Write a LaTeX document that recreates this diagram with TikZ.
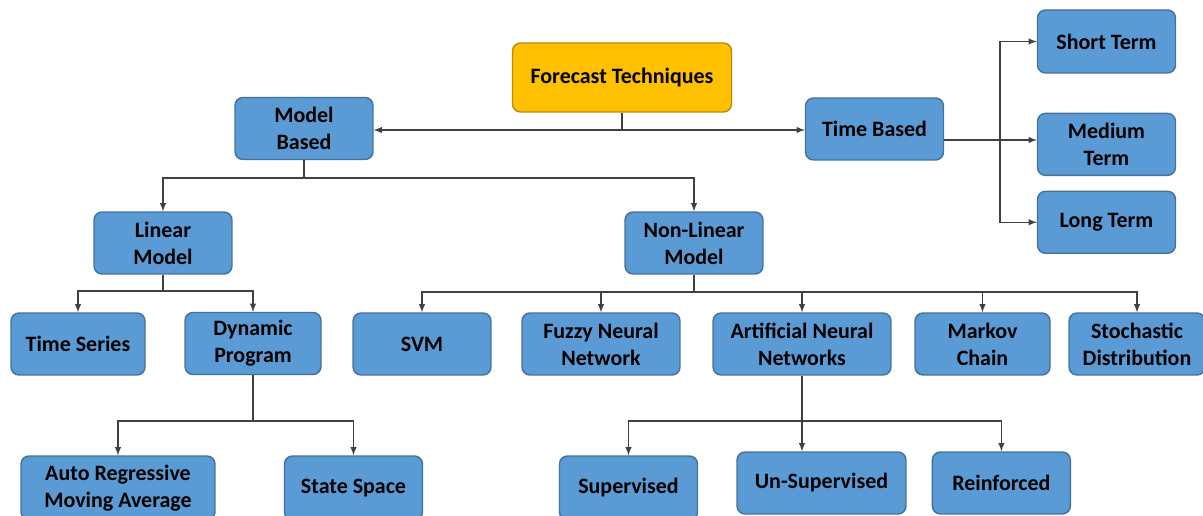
\documentclass[tikz,border=0pt]{standalone}
\usepackage{fontspec}
\setmainfont{Carlito}
\usetikzlibrary{arrows,positioning}
\definecolor{techfill}{HTML}{5B9BD5}
\definecolor{techline}{HTML}{41719C}
\definecolor{techgold}{HTML}{FFC000}
\definecolor{goldline}{HTML}{BC8C00}
\definecolor{wireclr}{HTML}{404040}
\tikzstyle{tech}=[rectangle,rounded corners=0.16cm,draw=techline,fill=techfill,
line width=0.8pt,minimum width=2.76cm,minimum height=1.24cm,align=center,
inner sep=1pt,font=\bfseries\fontsize{12.5}{15.3}\selectfont]
\tikzstyle{topbox}=[tech,fill=techgold,draw=goldline,minimum width=4.38cm,
minimum height=1.38cm]
\tikzstyle{wire}=[draw=wireclr,line width=0.6pt]

\begin{document}
\begin{tikzpicture}[x=0.02cm,y=-0.02cm,>=latex]
            \useasboundingbox (0,0) rectangle (1203,516);

            % TOP PART

            \node[topbox] (fc) at (622,77.5) {Forecast Techniques};
            \node[tech] (mb) at (304,128.5) {Model\\Based};
            \node[tech] (tb) at (874.5,129) {Time Based};

            \coordinate (fcbus) at (622,130);
            \draw[wire] (fc) -- (fcbus);
            \draw[wire,->] (fcbus) -- (fcbus -| mb.east);
            \draw[wire,->] (fcbus) -- (fcbus -| tb.west);

            % TIME PART

            \node[tech,minimum height=1.26cm] (st) at (1106.5,41.5) {Short Term};
            \node[tech,below=0.78cm of st] (mt) {Medium\\Term};
            \node[tech,below=0.29cm of mt] (lt) {Long Term};

            \coordinate (tbbus) at (1000,140);
            \draw[wire,->] (tbbus -| tb.east) -- (tbbus -| mt.west);
            \draw[wire,->] (tbbus) |- (st.west);
            \draw[wire,->] (tbbus) |- (lt.west);

            % MODEL PART

            \node[tech] (lm) at (163,243) {Linear\\Model};
            \node[tech] (nl) at (694,243) {Non-Linear\\Model};

            \coordinate (mbbus) at (304,178);
            \draw[wire] (mb) -- (mbbus);
            \draw[wire,->] (mbbus) -| (lm.north);
            \draw[wire,->] (mbbus) -| (nl.north);

            % LINEAR PART

            \node[tech,minimum width=2.68cm] (ts) at (78,344) {Time Series};
            \node[tech,minimum width=2.72cm] (dp) at (253,343.5) {Dynamic\\Program};
            \node[tech,minimum width=3.88cm,minimum height=1.28cm] (arma) at (118,488) {Auto Regressive\\Moving Average};
            \node[tech,minimum height=1.28cm] (ss) at (353.5,488) {State Space};

            \coordinate (lmbus) at (163,291);
            \draw[wire] (lm) -- (lmbus);
            \foreach \n in {ts,dp}
                \draw[wire,->] (lmbus) -| (\n.north);

            \coordinate (dpbus) at (253,421);
            \draw[wire] (dp) -- (dpbus);
            \foreach \n in {arma,ss}
                \draw[wire,->] (dpbus) -| (\n.north);

            % NON-LINEAR PART

            \node[tech] (svm) at (422,344) {SVM};
            \node[tech,minimum width=3.16cm] (fnn) at (601,344) {Fuzzy Neural\\Network};
            \node[tech,minimum width=3.56cm] (ann) at (802,344) {Artificial Neural\\Networks};
            \node[tech,minimum width=2.7cm] (mc) at (982.5,344) {Markov\\Chain};
            \node[tech,minimum width=2.72cm] (sd) at (1137,344) {Stochastic\\Distribution};

            \coordinate (nlbus) at (694,292);
            \draw[wire] (nl) -- (nlbus);
            \foreach \n in {svm,fnn,ann,mc,sd}
                \draw[wire,->] (nlbus) -| (\n.north);

            % LEARNING PART

            \node[tech,minimum height=1.28cm] (sup) at (628.5,488) {Supervised};
            \node[tech,minimum width=3.38cm] (uns) at (821.5,483) {Un-Supervised};
            \node[tech,right=0.5cm of uns] (rei) {Reinforced};

            \coordinate (annbus) at (802,421);
            \draw[wire] (ann) -- (annbus);
            \draw[wire,->] (annbus) -- (annbus |- uns.north);
            \draw[wire,->] (annbus) -| (sup.north);
            \draw[wire,->] (annbus) -| (rei.north);

        \end{tikzpicture}
\end{document}
